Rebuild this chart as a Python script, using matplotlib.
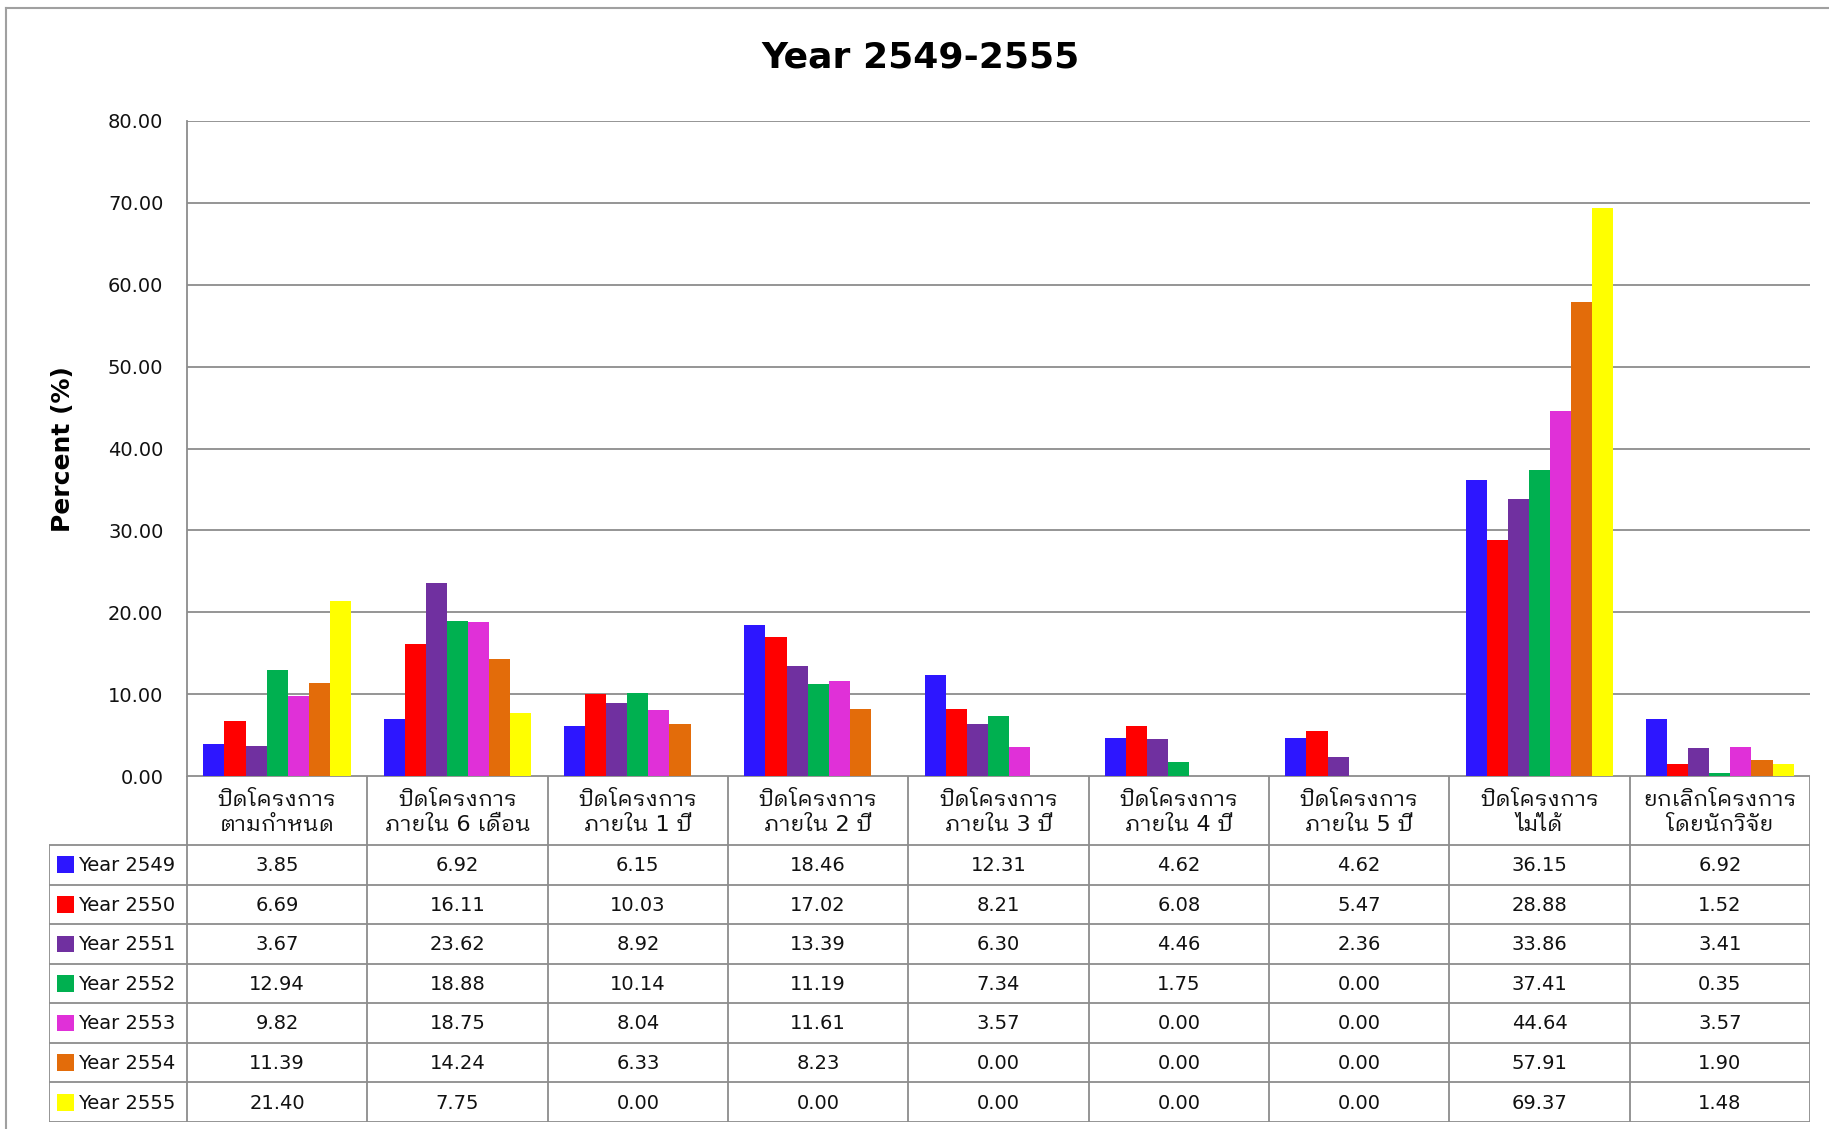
import matplotlib
matplotlib.use('Agg')
import matplotlib.pyplot as plt
from matplotlib.patches import Rectangle
from matplotlib.lines import Line2D
import numpy as np

FONT = ['DejaVu Sans', 'IBM Plex Sans Thai Looped']
plt.rcParams['font.family'] = FONT

categories = ["ปิดโครงการ\nตามกำหนด", "ปิดโครงการ\nภายใน 6 เดือน", "ปิดโครงการ\nภายใน 1 ปี",
              "ปิดโครงการ\nภายใน 2 ปี", "ปิดโครงการ\nภายใน 3 ปี", "ปิดโครงการ\nภายใน 4 ปี",
              "ปิดโครงการ\nภายใน 5 ปี", "ปิดโครงการ\nไม่ได้", "ยกเลิกโครงการ\nโดยนักวิจัย"]
series_names = ["Year 2549", "Year 2550", "Year 2551", "Year 2552", "Year 2553", "Year 2554", "Year 2555"]
y2549 = [3.85, 6.92, 6.15, 18.46, 12.31, 4.62, 4.62, 36.15, 6.92]
y2550 = [6.69, 16.11, 10.03, 17.02, 8.21, 6.08, 5.47, 28.88, 1.52]
y2551 = [3.67, 23.62, 8.92, 13.39, 6.30, 4.46, 2.36, 33.86, 3.41]
y2552 = [12.94, 18.88, 10.14, 11.19, 7.34, 1.75, 0.00, 37.41, 0.35]
y2553 = [9.82, 18.75, 8.04, 11.61, 3.57, 0.00, 0.00, 44.64, 3.57]
y2554 = [11.39, 14.24, 6.33, 8.23, 0.00, 0.00, 0.00, 57.91, 1.90]
y2555 = [21.40, 7.75, 0.00, 0.00, 0.00, 0.00, 0.00, 69.37, 1.48]
series = [y2549, y2550, y2551, y2552, y2553, y2554, y2555]
colors = ["#2D16FF", "#FF0000", "#7030A0", "#00B050", "#E030D8", "#E36C0A", "#FFFF00"]
yticks = [0, 10, 20, 30, 40, 50, 60, 70, 80]
title = "Year 2549-2555"
ylabel = "Percent (%)"

W, H = 1829, 1129
fig = plt.figure(figsize=(W / 100, H / 100), dpi=100)

def fx(px): return px / W
def fy(py): return 1 - py / H

GRID = '#8C8C8C'
TXT = '#111111'
plot_l, plot_r, plot_t, plot_b = 187, 1810, 121, 776
ax = fig.add_axes([fx(plot_l), fy(plot_b), fx(plot_r) - fx(plot_l), fy(plot_t) - fy(plot_b)])
n = len(categories)
x = np.arange(n)
bw = 0.117
for i, (vals, c) in enumerate(zip(series, colors)):
    ax.bar(x + (i - 3) * bw, vals, width=bw, color=c, linewidth=0, zorder=3)
ax.set_xlim(-0.5, n - 0.5)
ax.set_ylim(0, 80)
ax.set_yticks(yticks)
ax.set_yticklabels([f"{v:.2f}" for v in yticks], fontsize=14, color=TXT)
ax.tick_params(axis='y', length=0, pad=17)
ax.set_xticks([])
ax.yaxis.grid(True, color=GRID, linewidth=1.3, zorder=0)
for s in ['top', 'right', 'bottom']:
    ax.spines[s].set_visible(False)
ax.spines['left'].set_color(GRID)
ax.spines['left'].set_linewidth(1.3)

# data table
tab_l, tab_t, tab_b = 49, 776, 1122
colw = (plot_r - plot_l) / n
hdr_h = 69
rowh = (tab_b - tab_t - hdr_h) / len(series)
left_units = (plot_l - tab_l) / colw
hdr_units = hdr_h / rowh
axt = fig.add_axes([fx(tab_l), fy(tab_b), fx(plot_r) - fx(tab_l), fy(tab_t) - fy(tab_b)])
axt.set_xlim(-0.5 - left_units, n - 0.5)
axt.set_ylim(len(series), -hdr_units)
axt.axis('off')
lk = dict(color=GRID, linewidth=1.3, solid_capstyle='butt')
axt.plot([-0.5, n - 0.5], [-hdr_units, -hdr_units], **lk)
for r in range(len(series) + 1):
    axt.plot([-0.5 - left_units, n - 0.5], [r, r], **lk)
axt.plot([-0.5 - left_units] * 2, [0, len(series)], **lk)
for c in range(n + 1):
    axt.plot([c - 0.5] * 2, [-hdr_units, len(series)], **lk)
for c, cat in enumerate(categories):
    axt.text(c, -hdr_units / 2 + 0.05, cat, ha='center', va='center', fontsize=16,
             linespacing=1.35, color=TXT)
key_w = 17 / colw
for r, (name, vals, col) in enumerate(zip(series_names, series, colors)):
    kx = -0.5 - left_units + 8 / colw
    axt.add_patch(Rectangle((kx, r + 0.5 - 0.21), key_w, 0.42, color=col, linewidth=0))
    axt.text(-0.5 - left_units + 29 / colw, r + 0.52, name, ha='left', va='center',
             fontsize=14, color=TXT)
    for c, v in enumerate(vals):
        axt.text(c, r + 0.52, f"{v:.2f}", ha='center', va='center', fontsize=14, color=TXT)

fig.text(fx(921), fy(58), title, ha='center', va='center', fontsize=26, fontweight='bold')
fig.text(fx(63), fy(449), ylabel, ha='center', va='center', rotation=90, fontsize=18,
         fontweight='bold')

fig.add_artist(Line2D([fx(6), fx(6)], [0, fy(8)], color='#A0A0A0', linewidth=1.5))
fig.add_artist(Line2D([fx(6), 1], [fy(8), fy(8)], color='#A0A0A0', linewidth=1.5))

fig.savefig('out.png', dpi=100, facecolor='white')
